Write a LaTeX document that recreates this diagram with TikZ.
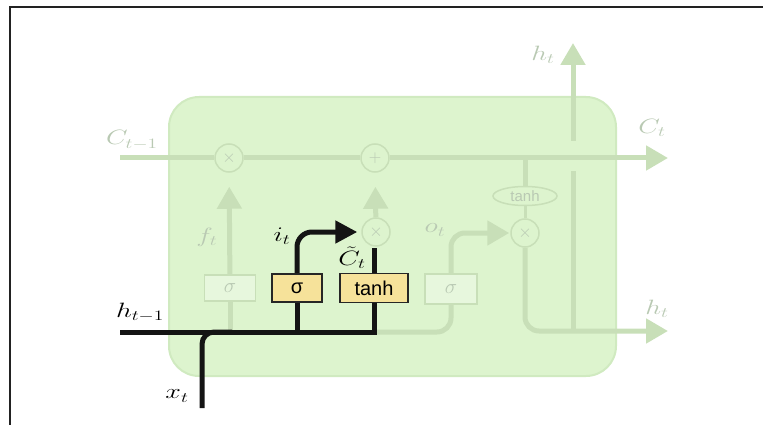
\documentclass[tikz,border=0pt]{standalone}
\usepackage{fontspec}
\usepackage{graphicx}
\newfontfamily\sansf{Liberation Sans}
\usetikzlibrary{arrows.meta,shapes.geometric}
\definecolor{fade}{HTML}{C8DFB8}
\definecolor{boxfill}{HTML}{DDF4CE}
\definecolor{boxedge}{HTML}{D0EAC0}
\definecolor{ftext}{HTML}{B9C9B3}
\definecolor{ybox}{HTML}{F6E29A}
\definecolor{frame}{HTML}{222222}
\newcommand{\wide}[1]{\scalebox{1.35}[1]{#1}}
\begin{document}
\begin{tikzpicture}[x=1pt,y=-1pt,
  fl/.style={draw=fade,line width=5pt},
  bl/.style={draw=black!92,line width=5pt},
  fat/.style={-{Triangle[length=22pt,width=24pt]}},
  bat/.style={-{Triangle[length=22pt,width=22pt]}},
  gate/.style={circle,draw=fade,line width=1.5pt,fill=boxfill,minimum size=28pt,inner sep=0pt,text=ftext,font=\fontsize{17}{17}\selectfont},
  fbox/.style={rectangle,draw=fade,line width=1.2pt,fill=boxfill!70!white,inner sep=0pt,text=ftext,font=\fontsize{20}{20}\selectfont},
  ybx/.style={rectangle,draw=black!85,line width=1.6pt,fill=ybox,inner sep=0pt,font=\sansf\fontsize{20}{20}\selectfont},
  flab/.style={text=ftext,font=\fontsize{20}{20}\selectfont,inner sep=0pt},
  blab/.style={text=black,font=\fontsize{20}{20}\selectfont,inner sep=0pt}]
\useasboundingbox (0,0) rectangle (763,425);
% frame
\draw[frame,line width=2pt] (10,425) -- (10,7) -- (763,7);
% cell box
\node[rectangle,rounded corners=30pt,fill=boxfill,draw=boxedge,line width=2pt,minimum width=447pt,minimum height=279pt,anchor=north west] (cell) at (168,96) {};
% gates
\node[gate] (mulf) at (229,158) {$\times$};
\node[gate] (plus) at (375,158) {$+$};
\node[gate] (muli) at (376,232) {$\times$};
\node[gate] (mulo) at (525,233) {$\times$};
\node[ellipse,draw=fade,line width=1.5pt,fill=boxfill,minimum width=64pt,minimum height=19pt,inner sep=0pt,text=ftext,font=\sansf\fontsize{15}{15}\selectfont] (tanhC) at (525,196) {tanh};
\node[fbox,minimum width=51pt,minimum height=26pt] (sf) at (230,288) {$\sigma$};
\node[fbox,minimum width=52pt,minimum height=30pt] (so) at (451,289) {$\sigma$};
\node[ybx,minimum width=50pt,minimum height=28pt] (si) at (297,288) {σ};
\node[ybx,minimum width=68pt,minimum height=29pt] (tc) at (374,288) {tanh};
% coordinates
\coordinate (cin) at (120,158);
\coordinate (cout) at (668,158);
\coordinate (ctap) at (525,158);
\coordinate (hin) at (120,332);
\coordinate (xin) at (202,408);
\coordinate (xjoin) at (232,332);
\coordinate (hout) at (668,331);
\coordinate (hbot) at (573,331);
\coordinate (gapb) at (573,171);
\coordinate (gapt) at (573,141);
\coordinate (htop) at (573,43);
\coordinate (ctop) at (374,248);
% faded connectors
\draw[fl,fat] (cin) -- (mulf) -- (plus) -- (cout);
\draw[fl] (ctap) -- (tanhC);
\draw[fl,line width=3pt] (tanhC) -- (mulo);
\draw[fl,fat,shorten >=14pt] (sf) -- (mulf);
\draw[fl] (sf.south) -- (sf.south |- hin);
\draw[fl,fat,shorten >=14pt] (muli) -- (plus);
\draw[fl,rounded corners=14pt] (tc.south |- hin) -| (so.south);
\draw[fl,fat,rounded corners=14pt,shorten >=1pt] (so.north) |- (mulo.west);
\draw[fl,fat,rounded corners=14pt] (mulo.south) |- (hout);
\draw[fl] (hbot) -- (gapb);
\draw[fl,fat] (gapt) -- (htop);
% black connectors
\draw[bl,rounded corners=12pt] (xin) |- (xjoin);
\draw[bl] (hin) -| (tc.south);
\draw[bl] (si.south) -- (si.south |- hin);
\draw[bl,bat,rounded corners=15pt,shorten >=4pt] (si.north) |- (muli.west);
\draw[bl] (tc.north) -- (ctop);
% labels
\node[flab] (lcin) at (132,140) {\wide{$C_{t-1}$}};
\node[flab] (lcout) at (652,128) {\wide{$C_t$}};
\node[flab] (lhtop) at (543,55) {\wide{$h_t$}};
\node[flab] (lhout) at (657,309) {\wide{$h_t$}};
\node[flab] (lft) at (207,237) {\wide{$f_t$}};
\node[flab] (lot) at (435,230) {\wide{$o_t$}};
\node[blab] (lit) at (282,236) {\wide{$i_t$}};
\node[blab] (lct) at (352,258) {\wide{$\tilde{C}_t$}};
\node[blab] (lh) at (140,312) {\wide{$h_{t-1}$}};
\node[blab] (lx) at (177,396) {\wide{$x_t$}};
\end{tikzpicture}
\end{document}
